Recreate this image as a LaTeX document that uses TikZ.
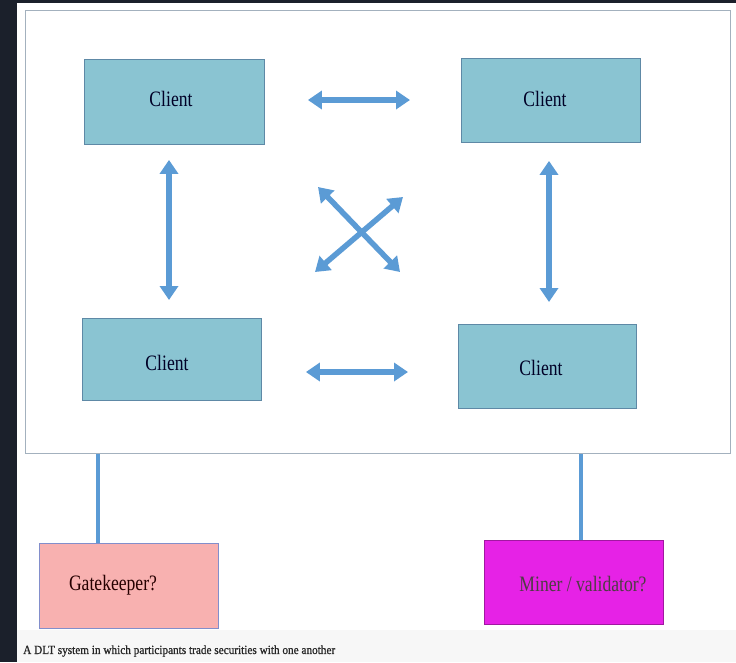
\documentclass[tikz,border=0pt]{standalone}
\usepackage{fontspec}
\setmainfont{Liberation Serif}
\newfontfamily\condfont[FakeStretch=0.8]{Liberation Serif}
\newfontfamily\capfont[FakeStretch=0.9,FakeBold=0.8]{Liberation Serif}
\usetikzlibrary{arrows.meta}
\definecolor{darkbg}{HTML}{1B202B}
\definecolor{clientfill}{HTML}{8AC4D2}
\definecolor{clientdraw}{HTML}{5E89A6}
\definecolor{gatefill}{HTML}{F8B1B0}
\definecolor{minerfill}{HTML}{E622E6}
\definecolor{arrowblue}{HTML}{5B9BD5}
\definecolor{framegray}{HTML}{A3B1BE}
\definecolor{capbg}{HTML}{F7F7F7}
\tikzset{
  box/.style={draw=clientdraw, line width=0.9pt, inner sep=0pt, anchor=north west},
  boxtext/.style={font=\condfont\fontsize{22}{24}\selectfont, text=black!85!blue, inner sep=0pt},
  dbl/.style={draw=arrowblue, line width=5.5pt, {Triangle[width=18pt,length=14pt]}-{Triangle[width=18pt,length=14pt]}},
  link/.style={draw=arrowblue, line width=4.5pt}
}
\begin{document}
\begin{tikzpicture}[x=1pt,y=-1pt]
\useasboundingbox (0,0) rectangle (736,662);
\fill[darkbg] (0,0) rectangle (736,662);
\fill[white] (17,3) rectangle (736,630);
\fill[capbg] (17,630) rectangle (736,662);
% frame
\node[draw=framegray, line width=1.2pt, anchor=north west, minimum width=705pt, minimum height=443pt, inner sep=0pt] (frame) at (25,10) {};
% clients
\node[box, fill=clientfill, minimum width=180pt, minimum height=85pt] (c1) at (84,59) {};
\node[box, fill=clientfill, minimum width=179pt, minimum height=84pt] (c2) at (461,58) {};
\node[box, fill=clientfill, minimum width=179pt, minimum height=82pt] (c3) at (82,318) {};
\node[box, fill=clientfill, minimum width=178pt, minimum height=84pt] (c4) at (458,324) {};
\node[boxtext] (t1) at (171,99) {Client};
\node[boxtext] (t2) at (545,99) {Client};
\node[boxtext] (t3) at (167,363) {Client};
\node[boxtext] (t4) at (541,368) {Client};
% bottom boxes
\node[box, draw=framegray!80!blue, fill=gatefill, minimum width=179pt, minimum height=85pt] (gk) at (39,543) {};
\node[box, draw=minerfill!70!black, fill=minerfill, minimum width=179pt, minimum height=84pt] (mv) at (484,540) {};
\node[boxtext, text=black!85!red] (tg) at (113,585) {Gatekeeper?};
\node[boxtext, text=black!80!magenta] (tm) at (583,584) {Miner / validator?};
% arrows
\draw[dbl, shorten <=43pt, shorten >=51pt] (c1.east |- 0,100) -- (c2.west |- 0,100);
\draw[dbl, shorten <=44pt, shorten >=50pt] (c3.east |- 0,372) -- (c4.west |- 0,372);
\draw[dbl, shorten <=15pt, shorten >=18pt] (c1.south -| 169,0) -- (c3.north -| 169,0);
\draw[dbl, shorten <=18pt, shorten >=22pt] (c2.south -| 549,0) -- (c4.north -| 549,0);
\coordinate (x1) at (318,187);
\coordinate (x2) at (400,272);
\coordinate (x3) at (403,197);
\coordinate (x4) at (315,272);
\draw[dbl] (x1) -- (x2);
\draw[dbl] (x3) -- (x4);
% links
\draw[link] (frame.south -| 98,0) -- (gk.north -| 98,0);
\draw[link] (frame.south -| 581,0) -- (mv.north -| 581,0);
% caption
\node[anchor=west, font=\capfont\fontsize{12.5}{14}\selectfont, text=black!85, inner sep=0pt] (cap) at (23,651) {A DLT system in which participants trade securities with one another};
\end{tikzpicture}
\end{document}
